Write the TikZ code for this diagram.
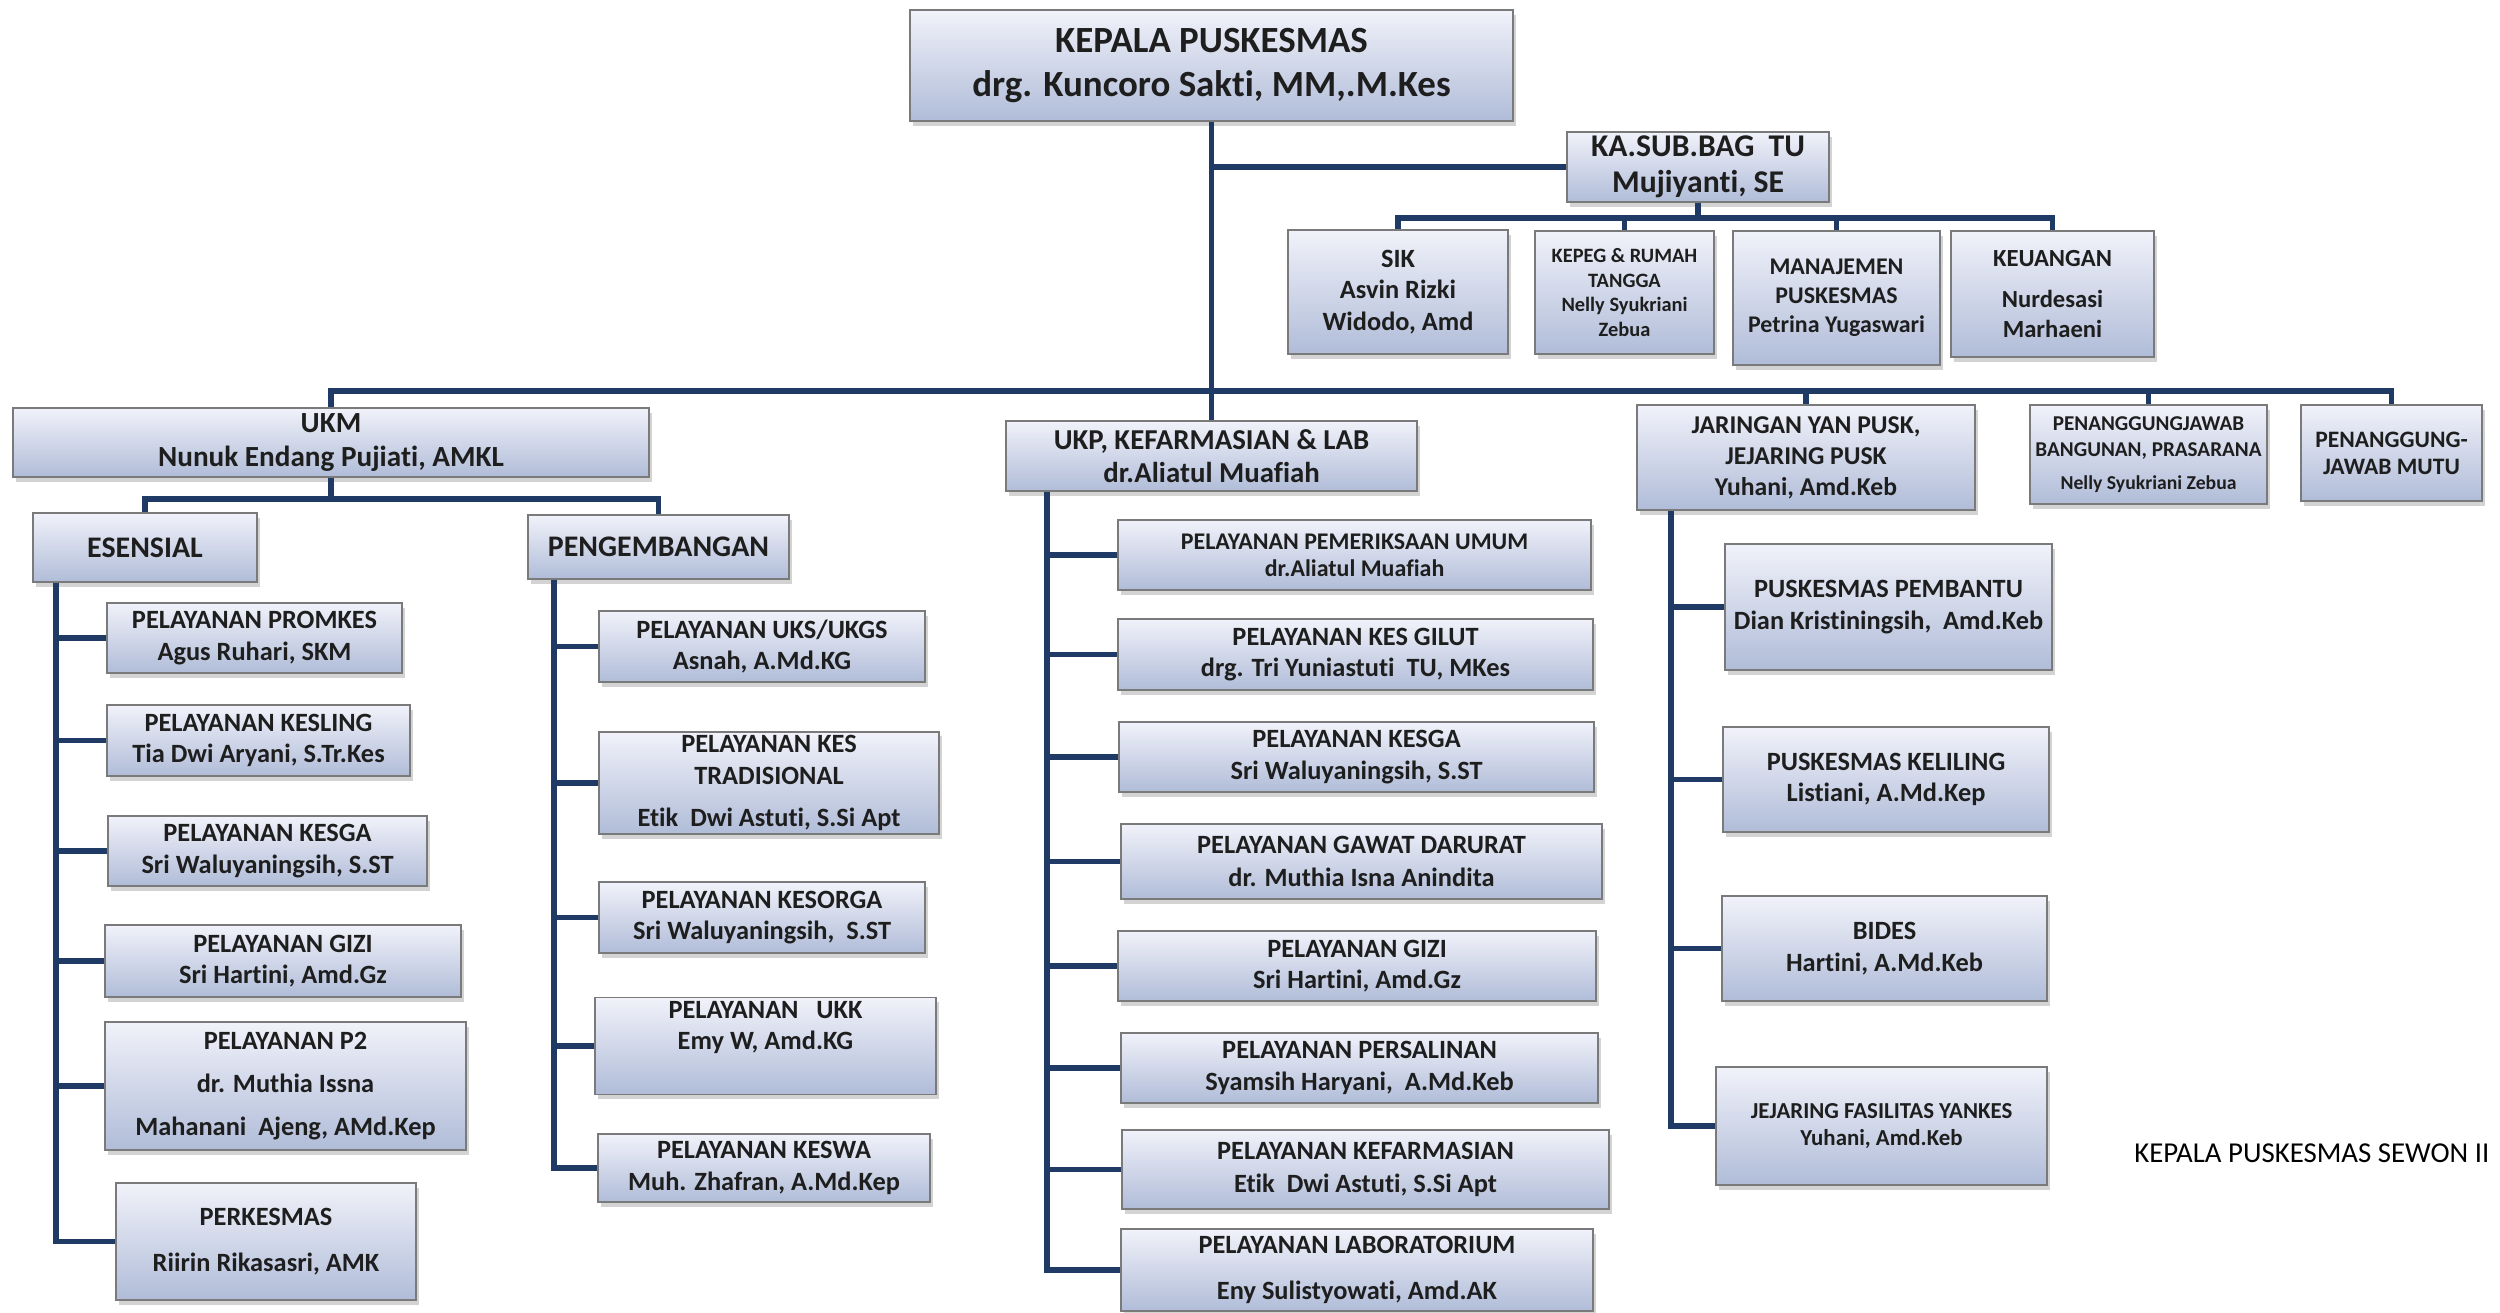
\documentclass[tikz,border=0pt]{standalone}
\usepackage{fontspec}
\setmainfont{Carlito}[Ligatures=NoCommon]
\usetikzlibrary{shadows,calc}

\definecolor{linkblue}{HTML}{1F3A64}
\definecolor{boxtop}{HTML}{F1F2FA}
\definecolor{boxbot}{HTML}{B0BCD8}
\definecolor{boxline}{HTML}{7A7A7A}
\definecolor{textgray}{HTML}{1E1E1E}

\tikzset{
  box/.style={draw=boxline, line width=0.5pt, top color=boxtop, bottom color=boxbot,
    drop shadow={opacity=0.35, shadow xshift=0.8pt, shadow yshift=-1.3pt},
    align=center, inner sep=1pt, text=textgray},
  wh/.style 2 args={minimum width=#1cm, minimum height=#2cm},
  fs/.style 2 args={font=\fontsize{#1}{#2}\selectfont\bfseries},
  link/.style={draw=linkblue, line width=1.6pt},
}

\begin{document}
\begin{tikzpicture}[x=0.01cm, y=-0.01cm]
    \useasboundingbox (0,0) rectangle (2500,1312);

    % Top
    \node[box, wh={6.03}{1.11}, fs={10.5}{12.5}] (kepala) at (1211.5,65.5) {KEPALA PUSKESMAS\\drg. Kuncoro Sakti, MM,.M.Kes};
    \node[box, wh={2.62}{0.70}, fs={9}{10.4}] (kasub) at (1698,167) {KA.SUB.BAG~~TU\\Mujiyanti, SE};

    % Tata usaha
    \node[box, wh={2.20}{1.24}, fs={7.5}{9}] (sik) at (1398,292) {SIK\\Asvin Rizki\\Widodo, Amd};
    \node[box, wh={1.79}{1.23}, fs={5.8}{7}] (kepeg) at (1624.5,292.5) {KEPEG \& RUMAH\\TANGGA\\Nelly Syukriani\\Zebua};
    \node[box, wh={2.07}{1.34}, fs={6.8}{8.3}] (manaj) at (1836.5,298) {MANAJEMEN\\PUSKESMAS\\Petrina Yugaswari};
    \node[box, wh={2.03}{1.26}, fs={7}{8.5}] (keuangan) at (2052.5,294) {KEUANGAN\\[3pt]Nurdesasi\\Marhaeni};

    % Second row
    \node[box, wh={6.36}{0.69}, fs={8.3}{9.5}] (ukm) at (331,442.5) {UKM\\Nunuk Endang Pujiati, AMKL};
    \node[box, wh={4.11}{0.70}, fs={8.2}{9.5}] (ukp) at (1211.5,456) {UKP, KEFARMASIAN \& LAB\\dr.Aliatul Muafiah};
    \node[box, wh={3.38}{1.05}, fs={7.3}{8.8}] (jaringan) at (1806,457.5) {JARINGAN YAN PUSK,\\JEJARING PUSK\\Yuhani, Amd.Keb};
    \node[box, wh={2.37}{0.99}, fs={6}{7.3}] (pjbangunan) at (2148.5,454.5) {PENANGGUNGJAWAB\\BANGUNAN, PRASARANA\\[2pt]{\fontsize{5.6}{7}\selectfont Nelly Syukriani Zebua}};
    \node[box, wh={1.81}{0.96}, fs={6.7}{7.7}] (pjmutu) at (2391.5,453) {PENANGGUNG-\\JAWAB MUTU};

    % UKM
    \node[box, wh={2.24}{0.69}, fs={8.5}{10}] (esensial) at (145,547.5) {ESENSIAL};
    \node[box, wh={2.61}{0.64}, fs={8.5}{10}] (pengemb) at (658.5,547) {PENGEMBANGAN};

    \node[box, wh={2.95}{0.70}, fs={7.5}{9}] (promkes) at (254.5,638) {PELAYANAN PROMKES\\Agus Ruhari, SKM};
    \node[box, wh={3.03}{0.71}, fs={7.5}{9}] (kesling) at (258.5,740.5) {PELAYANAN KESLING\\Tia Dwi Aryani, S.Tr.Kes};
    \node[box, wh={3.19}{0.70}, fs={7.5}{9}] (kesga1) at (267.5,851) {PELAYANAN KESGA\\Sri Waluyaningsih, S.ST};
    \node[box, wh={3.56}{0.72}, fs={7.5}{9}] (gizi1) at (283,961) {PELAYANAN GIZI\\Sri Hartini, Amd.Gz};
    \node[box, wh={3.61}{1.28}, fs={7.5}{12.2}] (p2) at (285.5,1086) {PELAYANAN P2\\dr. Muthia Issna\\Mahanani~~Ajeng, AMd.Kep};
    \node[box, wh={3.00}{1.17}, fs={7.5}{13}] (perkesmas) at (266,1241.5) {PERKESMAS\\Riirin Rikasasri, AMK};

    \node[box, wh={3.26}{0.71}, fs={7.5}{9}] (uks) at (762,646.5) {PELAYANAN UKS/UKGS\\Asnah, A.Md.KG};
    \node[box, wh={3.40}{1.02}, fs={7.5}{9}] (kestrad) at (769,783) {PELAYANAN KES\\TRADISIONAL\\[3pt]Etik~~Dwi Astuti, S.Si Apt};
    \node[box, wh={3.26}{0.71}, fs={7.5}{9}] (kesorga) at (762,917.5) {PELAYANAN KESORGA\\Sri Waluyaningsih,~~S.ST};
    \node[box, wh={3.41}{0.96}, fs={7.5}{9}] (ukk) at (765.5,1046) {PELAYANAN~~~UKK\\Emy W, Amd.KG\\\strut};
    \node[box, wh={3.32}{0.68}, fs={7.5}{9}] (keswa) at (764,1168) {PELAYANAN KESWA\\Muh. Zhafran, A.Md.Kep};

    % UKP
    \node[box, wh={4.73}{0.70}, fs={6.8}{7.7}] (periksa) at (1354.5,555) {PELAYANAN PEMERIKSAAN UMUM\\dr.Aliatul Muafiah};
    \node[box, wh={4.75}{0.71}, fs={7.5}{9}] (gilut) at (1355.5,654.5) {PELAYANAN KES GILUT\\drg. Tri Yuniastuti~~TU, MKes};
    \node[box, wh={4.75}{0.70}, fs={7.5}{9}] (kesga2) at (1356.5,757) {PELAYANAN KESGA\\Sri Waluyaningsih, S.ST};
    \node[box, wh={4.81}{0.75}, fs={7.5}{9.3}] (gadar) at (1361.5,861.5) {PELAYANAN GAWAT DARURAT\\dr. Muthia Isna Anindita};
    \node[box, wh={4.78}{0.70}, fs={7.5}{9}] (gizi2) at (1357,966) {PELAYANAN GIZI\\Sri Hartini, Amd.Gz};
    \node[box, wh={4.77}{0.70}, fs={7.5}{9}] (salin) at (1359.5,1068) {PELAYANAN PERSALINAN\\Syamsih Haryani,~~A.Md.Keb};
    \node[box, wh={4.87}{0.79}, fs={7.5}{9.5}] (farmasi) at (1365.5,1169.5) {PELAYANAN KEFARMASIAN\\Etik~~Dwi Astuti, S.Si Apt};
    \node[box, wh={4.72}{0.82}, fs={7.5}{13}] (lab) at (1357,1270) {PELAYANAN LABORATORIUM\\Eny Sulistyowati, Amd.AK};

    % Jaringan
    \node[box, wh={3.27}{1.26}, fs={7.5}{9}] (pustu) at (1888.5,607) {PUSKESMAS PEMBANTU\\Dian Kristiningsih,~~Amd.Keb};
    \node[box, wh={3.26}{1.05}, fs={7.5}{9}] (pusling) at (1886,779.5) {PUSKESMAS KELILING\\Listiani, A.Md.Kep};
    \node[box, wh={3.25}{1.05}, fs={7.5}{9}] (bides) at (1884.5,948.5) {BIDES\\Hartini, A.Md.Keb};
    \node[box, wh={3.31}{1.18}, fs={6.5}{7.7}] (jejaring) at (1881.5,1126) {JEJARING FASILITAS YANKES\\Yuhani, Amd.Keb};

    \node[font=\fontsize{8.2}{10}\selectfont, anchor=east, inner sep=0pt] (sewon) at (2490,1153) {KEPALA PUSKESMAS SEWON II};

    % Lines
    \coordinate (bus) at (1211.5,391);
    \coordinate (tubus) at (1698,218);
    \coordinate (ukmbus) at (331,499);
    \draw[link] (kepala.south) -- (ukp.north);
    \draw[link] (kasub.west) -- (kasub.west -| kepala.south);
    \draw[link] (kasub.south) -- (tubus);
    \draw[link] (sik.north) |- (tubus) -| (keuangan.north);
    \foreach \n in {kepeg,manaj}
      \draw[link] (\n.north) -- (\n.north |- tubus);
    \draw[link] (ukm.north) |- (bus) -| (pjmutu.north);
    \foreach \n in {jaringan,pjbangunan}
      \draw[link] (\n.north) -- (\n.north |- bus);
    \draw[link] (ukm.south) -- (ukmbus);
    \draw[link] (esensial.north) |- (ukmbus) -| (pengemb.north);

    % Spines
    \coordinate (esp) at ([xshift=0.24cm]esensial.south west);
    \coordinate (pgp) at ([xshift=0.27cm]pengemb.south west);
    \coordinate (ukpp) at ([xshift=0.42cm]ukp.south west);
    \coordinate (jrp) at ([xshift=0.35cm]jaringan.south west);
    \draw[link] (esp) |- (perkesmas.west);
    \foreach \n in {promkes,kesling,kesga1,gizi1,p2}
      \draw[link] (\n.west) -- (\n.west -| esp);
    \draw[link] (pgp) |- (keswa.west);
    \foreach \n in {uks,kestrad,kesorga,ukk}
      \draw[link] (\n.west) -- (\n.west -| pgp);
    \draw[link] (ukpp) |- (lab.west);
    \foreach \n in {periksa,gilut,kesga2,gadar,gizi2,salin,farmasi}
      \draw[link] (\n.west) -- (\n.west -| ukpp);
    \draw[link] (jrp) |- (jejaring.west);
    \foreach \n in {pustu,pusling,bides}
      \draw[link] (\n.west) -- (\n.west -| jrp);
\end{tikzpicture}
\end{document}
